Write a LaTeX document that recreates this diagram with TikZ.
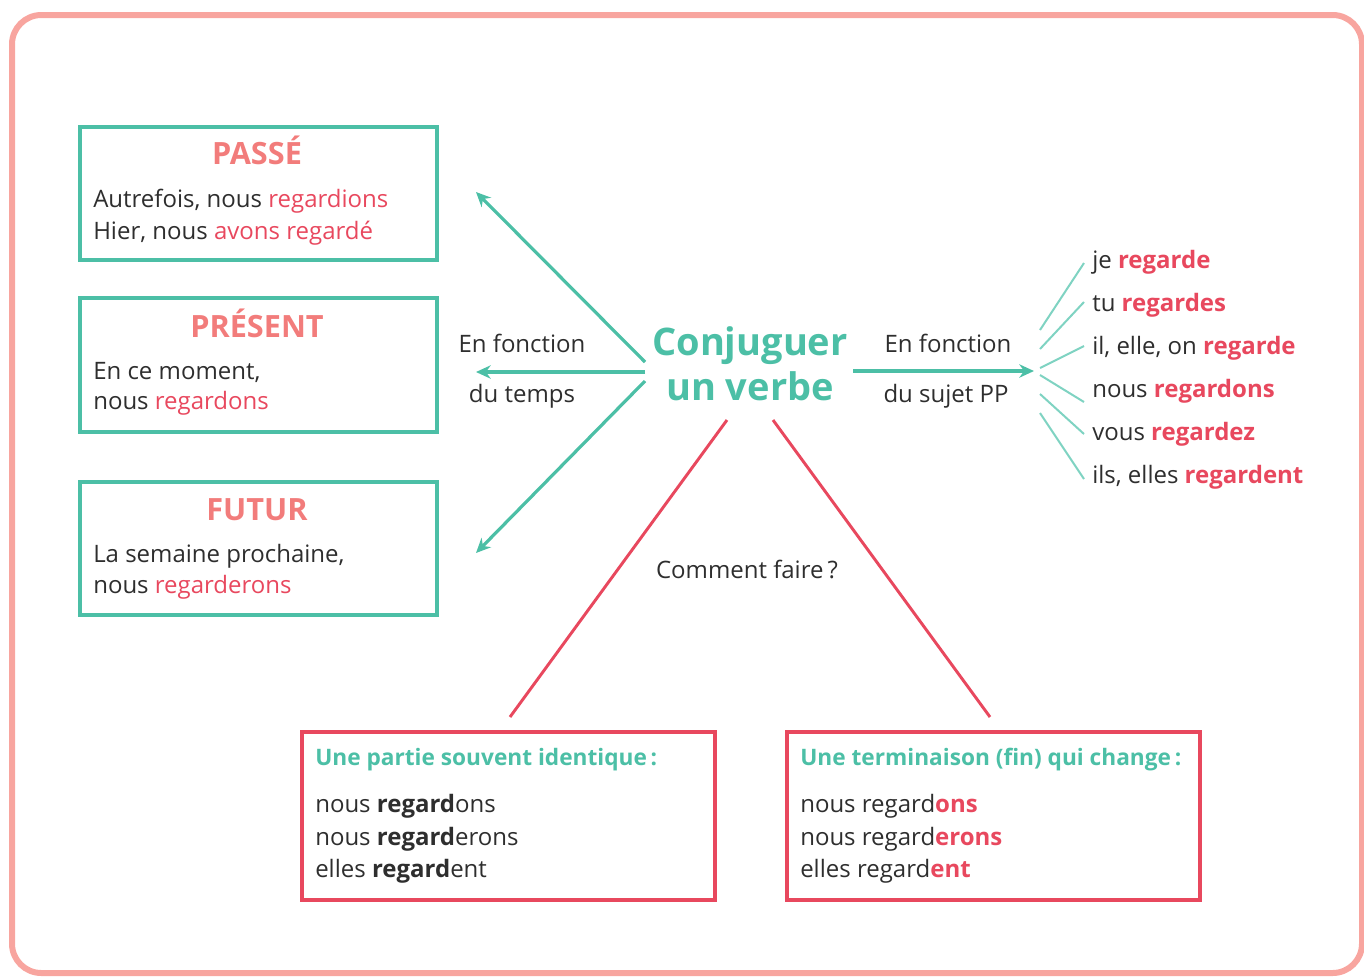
\documentclass[tikz,border=0pt]{standalone}
\usepackage{fontspec}
\setmainfont[Ligatures=NoCommon]{Open Sans}
\usetikzlibrary{arrows.meta}
\definecolor{tealc}{HTML}{4CBFA6}
\definecolor{tealfan}{HTML}{7FD3C2}
\definecolor{redc}{HTML}{E8485E}
\definecolor{salmon}{HTML}{F27C7B}
\definecolor{framec}{HTML}{F8A59F}
\definecolor{txt}{HTML}{2E2E2E}
\newcommand{\rg}[1]{\textcolor{redc}{#1}}
\newcommand{\rgb}[1]{\textcolor{redc}{\bfseries #1}}
\begin{document}
\begin{tikzpicture}[x=0.75pt,y=-0.75pt,
  body/.style={font=\fontsize{18}{22}\selectfont, text=txt, inner sep=0pt, anchor=base west},
  bodyc/.style={body, anchor=base},
  ttl/.style={font=\fontsize{23}{27}\selectfont\bfseries, text=salmon, inner sep=0pt, anchor=base},
  btitle/.style={font=\fontsize{17}{21}\selectfont\bfseries, text=tealc, inner sep=0pt, anchor=base west},
  bigttl/.style={font=\fontsize{28.5}{34}\selectfont\bfseries, text=tealc, inner sep=0pt, anchor=base},
  tbox/.style={draw=tealc, line width=2.4pt, minimum width=267.75pt, inner sep=0pt},
  rbox/.style={draw=redc, line width=2.4pt, minimum width=309.75pt, minimum height=126pt, inner sep=0pt},
  tarrow/.style={draw=tealc, line width=2.4pt, -{Stealth[length=11pt,width=10pt]}},
  fan/.style={draw=tealfan, line width=1.5pt},
  rline/.style={draw=redc, line width=2.2pt}
]
\useasboundingbox (0,0) rectangle (1364,976);
% frame
\draw[framec, line width=4.5pt, rounded corners=22pt] (12,15) rectangle (1362,973);

% left boxes
\node[tbox, minimum height=99.75pt] (passe) at (258.5,193.5) {};
\node[tbox, minimum height=100.5pt] (present) at (258.5,365) {};
\node[tbox, minimum height=99.75pt] (futur) at (258.5,548.5) {};

\node[ttl] (tpasse) at (257,164) {PASSÉ};
\node[body] (p1) at (93,207) {Autrefois, nous \rg{regardions}};
\node[body] (p2) at (93,239) {Hier, nous \rg{avons regardé}};

\node[ttl] (tpresent) at (257,337) {PRÉSENT};
\node[body] (r1) at (93,379) {En ce moment,};
\node[body] (r2) at (93,409) {nous \rg{regardons}};

\node[ttl] (tfutur) at (257,520) {FUTUR};
\node[body] (f1) at (93,562) {La semaine prochaine,};
\node[body] (f2) at (93,593) {nous \rg{regarderons}};

% centre
\node[bigttl] (c1) at (750,355) {Conjuguer};
\node[bigttl] (c2) at (750,400) {un verbe};

\node[bodyc] (ef1) at (522,352) {En fonction};
\node[bodyc] (ef2) at (522,402) {du temps};
\node[bodyc] (es1) at (948,352) {En fonction};
\node[bodyc] (es2) at (946,402) {du sujet PP};

% arrow coordinates
\coordinate (la1) at (645,362);
\coordinate (la2) at (645,372);
\coordinate (la3) at (645,381);
\coordinate (lt1) at (476,192);
\coordinate (lt2) at (476,372);
\coordinate (lt3) at (476,553);
\coordinate (ra) at (853,371);
\coordinate (rt) at (1034,371);

\draw[tarrow] (la1) -- (lt1);
\draw[tarrow] (la2) -- (lt2);
\draw[tarrow] (la3) -- (lt3);
\draw[tarrow] (ra) -- (rt);

% right list
\node[body] (j1) at (1092,268) {je \rgb{regarde}};
\node[body] (j2) at (1092,311) {tu \rgb{regardes}};
\node[body] (j3) at (1092,354) {il, elle, on \rgb{regarde}};
\node[body] (j4) at (1092,397) {nous \rgb{regardons}};
\node[body] (j5) at (1092,440) {vous \rgb{regardez}};
\node[body] (j6) at (1092,483) {ils, elles \rgb{regardent}};

\coordinate (fs1) at (1040,330); \coordinate (fe1) at (1084,263);
\coordinate (fs2) at (1040,349); \coordinate (fe2) at (1084,302);
\coordinate (fs3) at (1040,368); \coordinate (fe3) at (1084,346);
\coordinate (fs4) at (1040,375); \coordinate (fe4) at (1084,402);
\coordinate (fs5) at (1040,394); \coordinate (fe5) at (1084,434);
\coordinate (fs6) at (1040,413); \coordinate (fe6) at (1084,479);
\foreach \i in {1,...,6} {\draw[fan] (fs\i) -- (fe\i);}

% red lines
\coordinate (rl1) at (727,420); \coordinate (rl2) at (510,717);
\coordinate (rr1) at (773,420); \coordinate (rr2) at (990,717);
\draw[rline] (rl1) -- (rl2);
\draw[rline] (rr1) -- (rr2);

\node[bodyc] (cf) at (747,578) {Comment faire\,?};

% bottom boxes
\node[rbox] (bl) at (508.5,816) {};
\node[rbox] (br) at (993.5,816) {};

\node[btitle] (blt) at (315,765) {Une partie souvent identique\,:};
\node[body] (bl1) at (315,812) {nous \textbf{regard}ons};
\node[body] (bl2) at (315,845) {nous \textbf{regard}erons};
\node[body] (bl3) at (315,877) {elles \textbf{regard}ent};

\node[btitle] (brt) at (800,765) {Une terminaison (fin) qui change\,:};
\node[body] (br1) at (800,812) {nous regard\rgb{ons}};
\node[body] (br2) at (800,845) {nous regard\rgb{erons}};
\node[body] (br3) at (800,877) {elles regard\rgb{ent}};
\end{tikzpicture}
\end{document}
